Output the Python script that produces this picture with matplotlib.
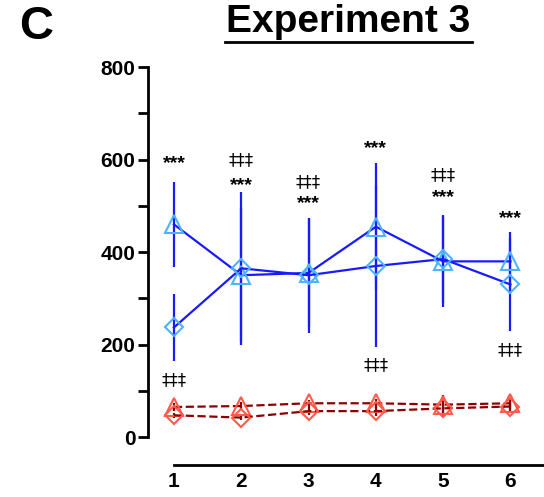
import matplotlib.pyplot as plt
import numpy as np
from matplotlib.ticker import MultipleLocator

plt.rcParams['font.family'] = ['Liberation Sans', 'DejaVu Sans']

days = [1, 2, 3, 4, 5, 6]

# blue group
blue_tri = [460, 350, 355, 455, 380, 380]
blue_tri_err = [92, 145, 118, 137, 98, 63]
blue_dia = [237, 365, 350, 370, 385, 330]
blue_dia_err = [72, 165, 124, 175, 95, 100]

# red group
red_tri = [65, 67, 73, 73, 70, 73]
red_tri_err = [8, 8, 8, 10, 20, 12]
red_dia = [47, 42, 56, 56, 62, 66]
red_dia_err = [6, 6, 8, 10, 18, 14]

# significance marks: (x, y, text)
stars = [(1, 592, '***'), (2, 545, '***'), (3, 504, '***'),
         (4, 625, '***'), (5, 517, '***'), (6, 473, '***')]
daggers = [(1, 123, '‡‡‡'), (2, 600, '‡‡‡'), (3, 551, '‡‡‡'),
           (4, 156, '‡‡‡'), (5, 566, '‡‡‡'), (6, 188, '‡‡‡')]

fig = plt.figure(figsize=(5.44, 4.97), dpi=100)
ax = fig.add_axes([0.272, 0.1207, 0.727, 0.744])

blue = '#1a1aff'
lblue = '#4db3ff'
dred = '#8b0000'
lred = '#ff5a4a'

ax.errorbar(days, blue_tri, yerr=blue_tri_err, color=blue, lw=1.6, capsize=0,
            marker='^', ms=13, mfc='none', mec=lblue, mew=1.5, zorder=3)
ax.errorbar(days, blue_dia, yerr=blue_dia_err, color=blue, lw=1.6, capsize=0,
            marker='D', ms=9, mfc='none', mec=lblue, mew=1.5, zorder=3)
ax.errorbar(days, red_tri, yerr=red_tri_err, color=dred, lw=1.6, ls='--', capsize=0,
            marker='^', ms=13, mfc='none', mec=lred, mew=1.5, zorder=3)
ax.errorbar(days, red_dia, yerr=red_dia_err, color=dred, lw=1.6, ls='--', capsize=0,
            marker='D', ms=9, mfc='none', mec=lred, mew=1.5, zorder=3)

for x, y, t in stars:
    ax.text(x, y, t, ha='center', va='center', fontsize=14, fontweight='bold')
for x, y, t in daggers:
    ax.text(x, y, t, ha='center', va='center', fontsize=12,
            family=['DejaVu Sans'])

ax.set_xlim(0.614, 6.49)
ax.set_ylim(0, 800)
ax.spines['top'].set_visible(False)
ax.spines['right'].set_visible(False)
ax.spines['left'].set_linewidth(2)
ax.spines['bottom'].set_linewidth(2)
ax.spines['bottom'].set_position(('outward', 20))
ax.spines['bottom'].set_bounds(1, 6.49)

ax.set_xticks(days)
ax.tick_params(axis='x', length=0, labelsize=15, pad=5)
ax.set_yticks([0, 200, 400, 600, 800])
ax.yaxis.set_minor_locator(MultipleLocator(100))
ax.tick_params(axis='y', which='both', length=7, width=2, labelsize=15, pad=2)
for lab in ax.get_xticklabels() + ax.get_yticklabels():
    lab.set_fontweight('bold')

fig.text(0.64, 0.955, 'Experiment 3', ha='center', va='center', fontsize=28,
         fontweight='bold')
fig.add_artist(plt.Line2D([0.413, 0.867], [0.915, 0.915], color='black', lw=2))
fig.text(0.066, 0.946, 'C', ha='center', va='center', fontsize=34, fontweight='bold')

fig.savefig('out.png', dpi=100)
